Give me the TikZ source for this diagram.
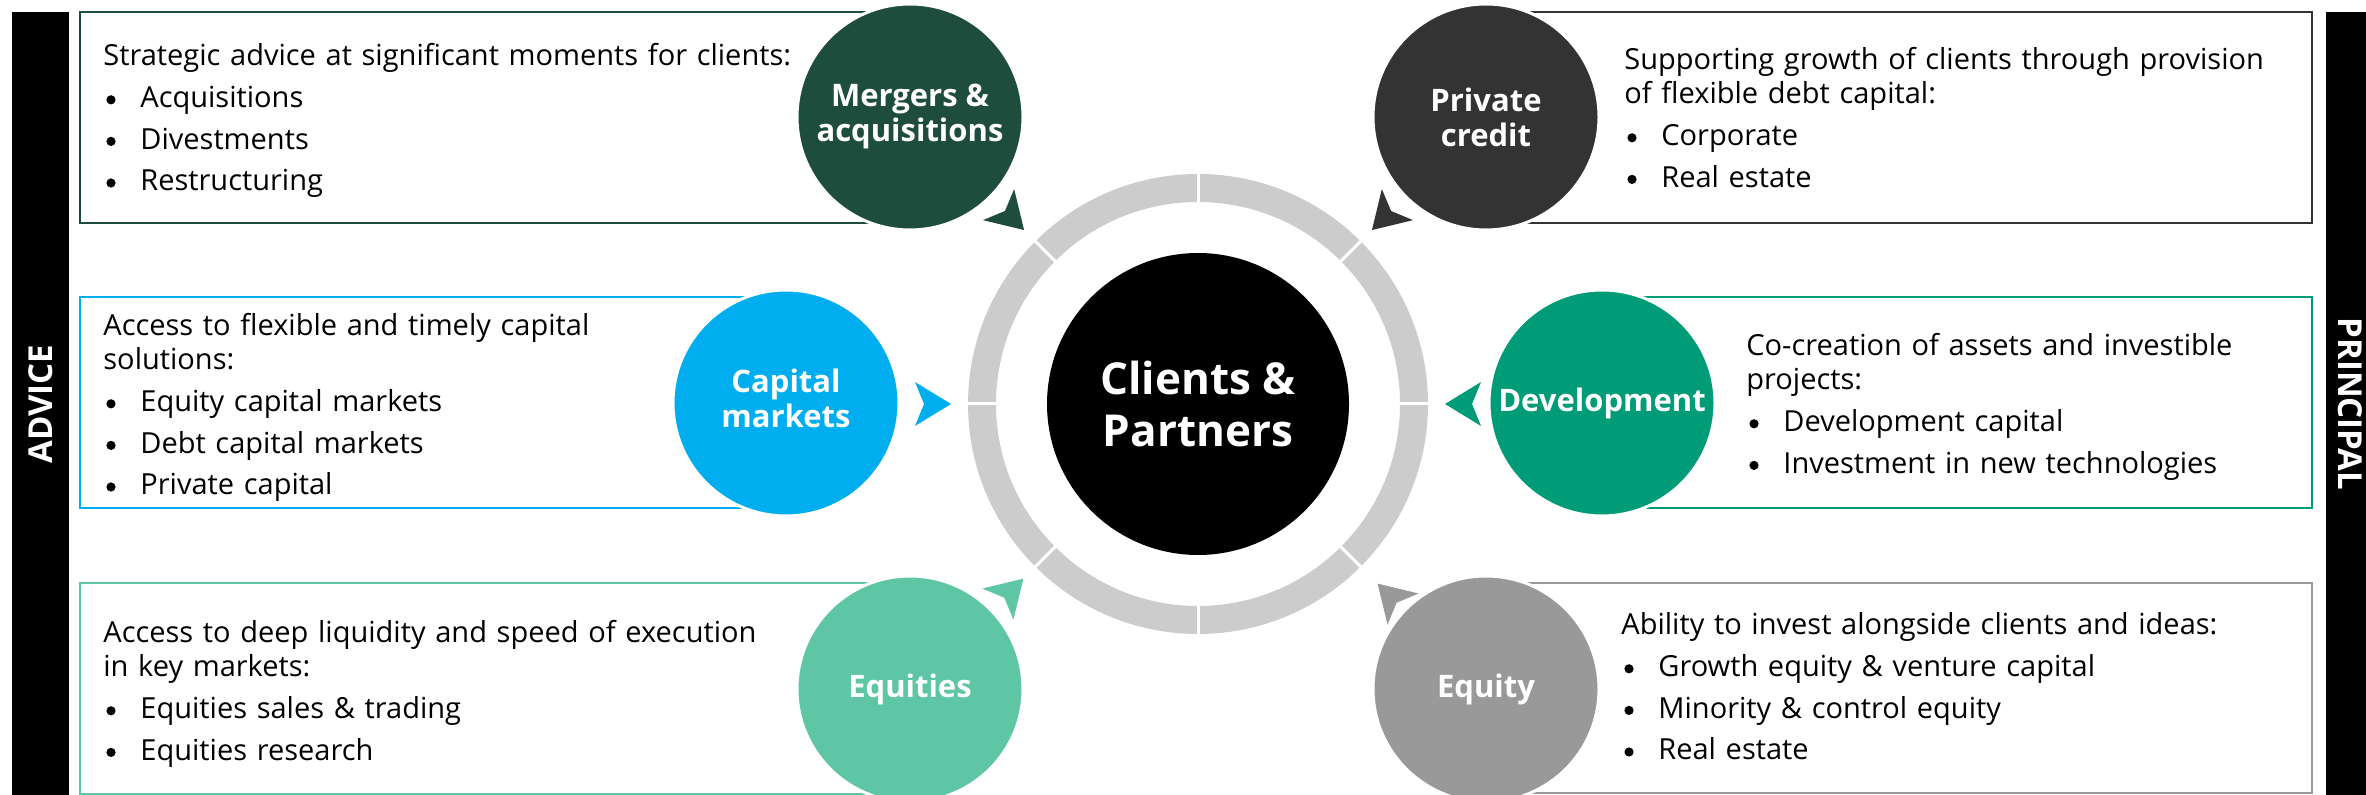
\documentclass[tikz,border=0pt]{standalone}
\usepackage{fontspec}
\setmainfont{Open Sans}
\usetikzlibrary{calc}
\definecolor{cma}{HTML}{1E4D3E}
\definecolor{cpc}{HTML}{333333}
\definecolor{ccm}{HTML}{00AEEF}
\definecolor{cdev}{HTML}{009B77}
\definecolor{ceqs}{HTML}{5EC6A5}
\definecolor{ceq}{HTML}{999999}
\definecolor{ringc}{HTML}{CCCCCC}
\newcommand\bitem[1]{\makebox[18.5pt][l]{\hspace{1.5pt}\tikz[baseline=0pt]\fill (2.3pt,3.9pt) circle (2.3pt);}#1}
\tikzset{
  boxframe/.style={draw=#1, line width=1pt},
  bubble/.style={circle, fill=#1, draw=white, line width=1.5pt, minimum size=113pt,
    inner sep=0pt, text=white, align=center,
    font=\bfseries\fontsize{15.5pt}{17.5pt}\selectfont},
  txt/.style={anchor=base west, text width=440pt, inner sep=0pt, align=left,
    font=\fontsize{14.5pt}{17pt}\selectfont},
  bartext/.style={text=white, font=\bfseries\fontsize{16.5pt}{18pt}\selectfont, inner sep=0pt},
  tip/.style={fill=#1},
}
\begin{document}
\begin{tikzpicture}[x=0.5pt, y=-0.5pt]
\useasboundingbox (0,0) rectangle (2366,795);
\coordinate (C) at (1198,404);

% side bars
\fill[black] (12,12) rectangle (69,795);
\fill[black] (2326,12) rectangle (2383,795);
\node[bartext, rotate=90] (advice) at (40.5,404) {ADVICE};
\node[bartext, rotate=-90] (principal) at (2350,404) {PRINCIPAL};

% boxes
\draw[boxframe=cma]  (80,12)   rectangle (910,223);
\draw[boxframe=cpc]  (1486,12) rectangle (2312,223);
\draw[boxframe=ccm]  (80,297)  rectangle (786,508);
\draw[boxframe=cdev] (1602,297) rectangle (2312,508);
\draw[boxframe=ceqs] (80,583)  rectangle (910,794);
\draw[boxframe=ceq]  (1486,583) rectangle (2312,793);

% ring
\fill[ringc, even odd rule] (C) circle[radius=115pt] (C) circle[radius=101pt];
\foreach \a in {0,45,...,315}
  \draw[white, line width=1.5pt] ($(C)+(\a:96pt)$) -- ($(C)+(\a:122pt)$);

% arrowheads pointing to the centre
\foreach \a/\col/\r in {135/cma/123, 45/cpc/123, 180/ccm/123.5, 0/cdev/123.5, 225/ceqs/123.5, 315/ceq/127}{
  \pgfmathsetmacro\rb{\r+18}
  \pgfmathsetmacro\rn{\r+13.5}
  \begin{scope}[shift={(C)}, rotate=\a]
    \fill[tip=\col] (\r pt,0pt) -- (\rb pt,11pt) -- (\rn pt,0pt) -- (\rb pt,-11pt) -- cycle;
  \end{scope}
}

% centre
\node[circle, fill=black, minimum size=151pt, inner sep=0pt, text=white, align=center,
  font=\bfseries\fontsize{22pt}{26pt}\selectfont] (cp) at (C) {Clients \&\\Partners};

% business circles
\node[bubble=cma]  (ma)  at (910,117)  {\raisebox{-1.5pt}{\begin{tabular}{@{}c@{}}Mergers \&\\acquisitions\end{tabular}}};
\node[bubble=cpc]  (pc)  at (1486,117) {Private\\credit};
\node[bubble=ccm]  (cm)  at (786,403)  {\raisebox{1.5pt}{\begin{tabular}{@{}c@{}}Capital\\markets\end{tabular}}};
\node[bubble=cdev] (dev) at (1602,403) {Development};
\node[bubble=ceqs] (eqs) at (910,689)  {Equities};
\node[bubble=ceq]  (eq)  at (1486,689) {Equity};

% texts
\node[txt] (tma) at (103,66) {Strategic advice at significant moments for clients:\\[3.8pt]
  \bitem{Acquisitions}\\[3.8pt]\bitem{Divestments}\\[3.8pt]\bitem{Restructuring}};
\node[txt] (tpc) at (1624,70) {Supporting growth of clients through provision\\
  of flexible debt capital:\\[3.8pt]\bitem{Corporate}\\[3.8pt]\bitem{Real estate}};
\node[txt] (tcm) at (103,336) {Access to flexible and timely capital\\solutions:\\[3.8pt]
  \bitem{Equity capital markets}\\[3.8pt]\bitem{Debt capital markets}\\[3.8pt]\bitem{Private capital}};
\node[txt] (tdev) at (1746,356) {Co-creation of assets and investible\\projects:\\[3.8pt]
  \bitem{Development capital}\\[3.8pt]\bitem{Investment in new technologies}};
\node[txt] (teqs) at (103,643) {Access to deep liquidity and speed of execution\\in key markets:\\[3.8pt]
  \bitem{Equities sales \& trading}\\[3.8pt]\bitem{Equities research}};
\node[txt] (teq) at (1621,635) {Ability to invest alongside clients and ideas:\\[3.8pt]
  \bitem{Growth equity \& venture capital}\\[3.8pt]\bitem{Minority \& control equity}\\[3.8pt]\bitem{Real estate}};
\end{tikzpicture}
\end{document}
